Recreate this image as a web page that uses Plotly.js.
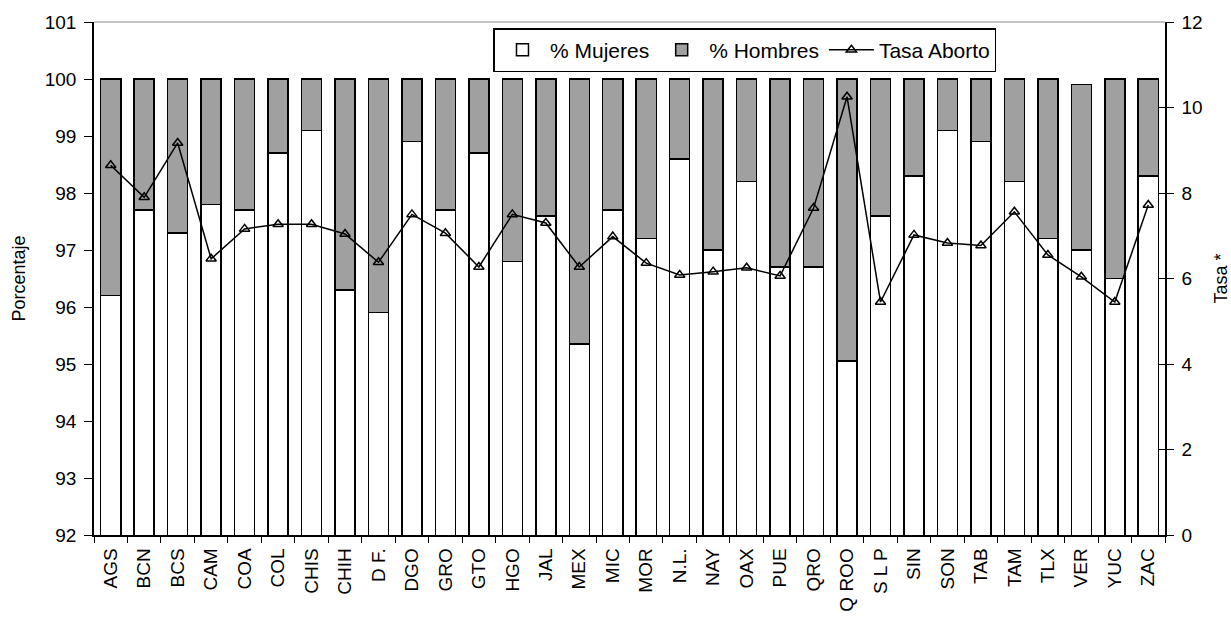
<!DOCTYPE html>
<html>
<head>
<meta charset="utf-8">
<script src="https://cdn.plot.ly/plotly-3.0.1.min.js"></script>
<style>html,body{margin:0;padding:0;background:#fff}#chart{width:1231px;height:621px}</style>
</head>
<body>
<div id="chart"></div>
<script>
var estados = ["AGS","BCN","BCS","CAM","COA","COL","CHIS","CHIH","D F.","DGO","GRO","GTO","HGO","JAL","MEX","MIC","MOR","N.L.","NAY","OAX","PUE","QRO","Q ROO","S L P","SIN","SON","TAB","TAM","TLX","VER","YUC","ZAC"];
var mujeres = [96.2,97.7,97.3,97.8,97.7,98.7,99.1,96.3,95.9,98.9,97.7,98.7,96.8,97.6,95.35,97.7,97.2,98.6,97.0,98.2,96.7,96.7,95.05,97.6,98.3,99.1,98.9,98.2,97.2,97.0,96.5,98.3];
var hombres = [3.8,2.3,2.7,2.2,2.3,1.3,0.9,3.7,4.1,1.1,2.3,1.3,3.2,2.4,4.65,2.3,2.8,1.4,3.0,1.8,3.3,3.3,4.95,2.4,1.7,0.9,1.1,1.8,2.8,2.9,3.5,1.7];
var tasa = [8.65,7.9,9.17,6.46,7.16,7.27,7.27,7.04,6.38,7.5,7.06,6.27,7.5,7.3,6.27,6.98,6.36,6.08,6.16,6.25,6.06,7.65,10.25,5.45,7.02,6.83,6.77,7.56,6.55,6.04,5.45,7.72];

var fam = "Liberation Sans, Arial, sans-serif";
var font = {family: fam, size: 19, color: "#000"};
var traces = [
  {type: "bar", x: estados, y: mujeres, name: "% Mujeres",
   marker: {color: "#ffffff", line: {color: "#000", width: 1.5}}},
  {type: "bar", x: estados, y: hombres, name: "% Hombres",
   marker: {color: "#a0a0a0", line: {color: "#000", width: 1.5}}},
  {type: "scatter", mode: "lines+markers", x: estados, y: tasa, name: "Tasa Aborto", yaxis: "y2",
   line: {color: "#000", width: 1.5},
   marker: {symbol: "triangle-up-open", size: 9, color: "#000", line: {width: 1.5}}},
  {type: "scatter", mode: "markers", x: [estados[0]], y: [null], yaxis: "y3",
   showlegend: false, hoverinfo: "skip", marker: {opacity: 0}}
];
var layout = {
  width: 1231, height: 621,
  margin: {l: 94, r: 66, t: 22, b: 86},
  paper_bgcolor: "#fff", plot_bgcolor: "#fff",
  font: font,
  barmode: "stack", bargap: 0.4,
  showlegend: true,
  legend: {orientation: "h", x: 0.373, y: 0.988, xanchor: "left", yanchor: "top",
           bordercolor: "#000", borderwidth: 1.5, bgcolor: "#fff", itemwidth: 45,
           font: {family: fam, size: 21, color: "#000"}, traceorder: "normal"},
  xaxis: {type: "category", range: [-0.5, 31.5], tickangle: -90, showline: true, linecolor: "#000", linewidth: 1.5,
          ticks: "outside", tickson: "boundaries", ticklen: 6, tickcolor: "#000", ticklabelstandoff: 4,
          showgrid: false, mirror: false, tickfont: font},
  yaxis: {range: [92, 101], dtick: 1, showline: true, linecolor: "#000", linewidth: 1.5,
          ticks: "outside", ticklen: 8, tickcolor: "#000", ticklabelstandoff: 4, showgrid: false, zeroline: false,
          tickfont: font, title: {text: "Porcentaje", font: {family: fam, size: 18, color: "#000"}, standoff: 14}},
  yaxis2: {range: [0, 12], dtick: 2, overlaying: "y", side: "right", showline: true,
           linecolor: "#000", linewidth: 1.5, ticks: "outside", ticklen: 7, tickcolor: "#000",
           ticklabelstandoff: 4, showgrid: false, zeroline: false, tickfont: font,
           title: {text: "Tasa *", font: {family: fam, size: 18, color: "#000"}, standoff: 24}},
  yaxis3: {range: [0, 12], dtick: 2, overlaying: "y", side: "right", showline: false,
           ticks: "inside", ticklen: 7, tickcolor: "#000", showticklabels: false,
           showgrid: false, zeroline: false},
  shapes: [{type: "line", xref: "paper", yref: "paper", x0: 0, x1: 1, y0: 1, y1: 1,
            line: {color: "#888", width: 1}}]
};
Plotly.newPlot("chart", traces, layout, {displayModeBar: false});
</script>
</body>
</html>
